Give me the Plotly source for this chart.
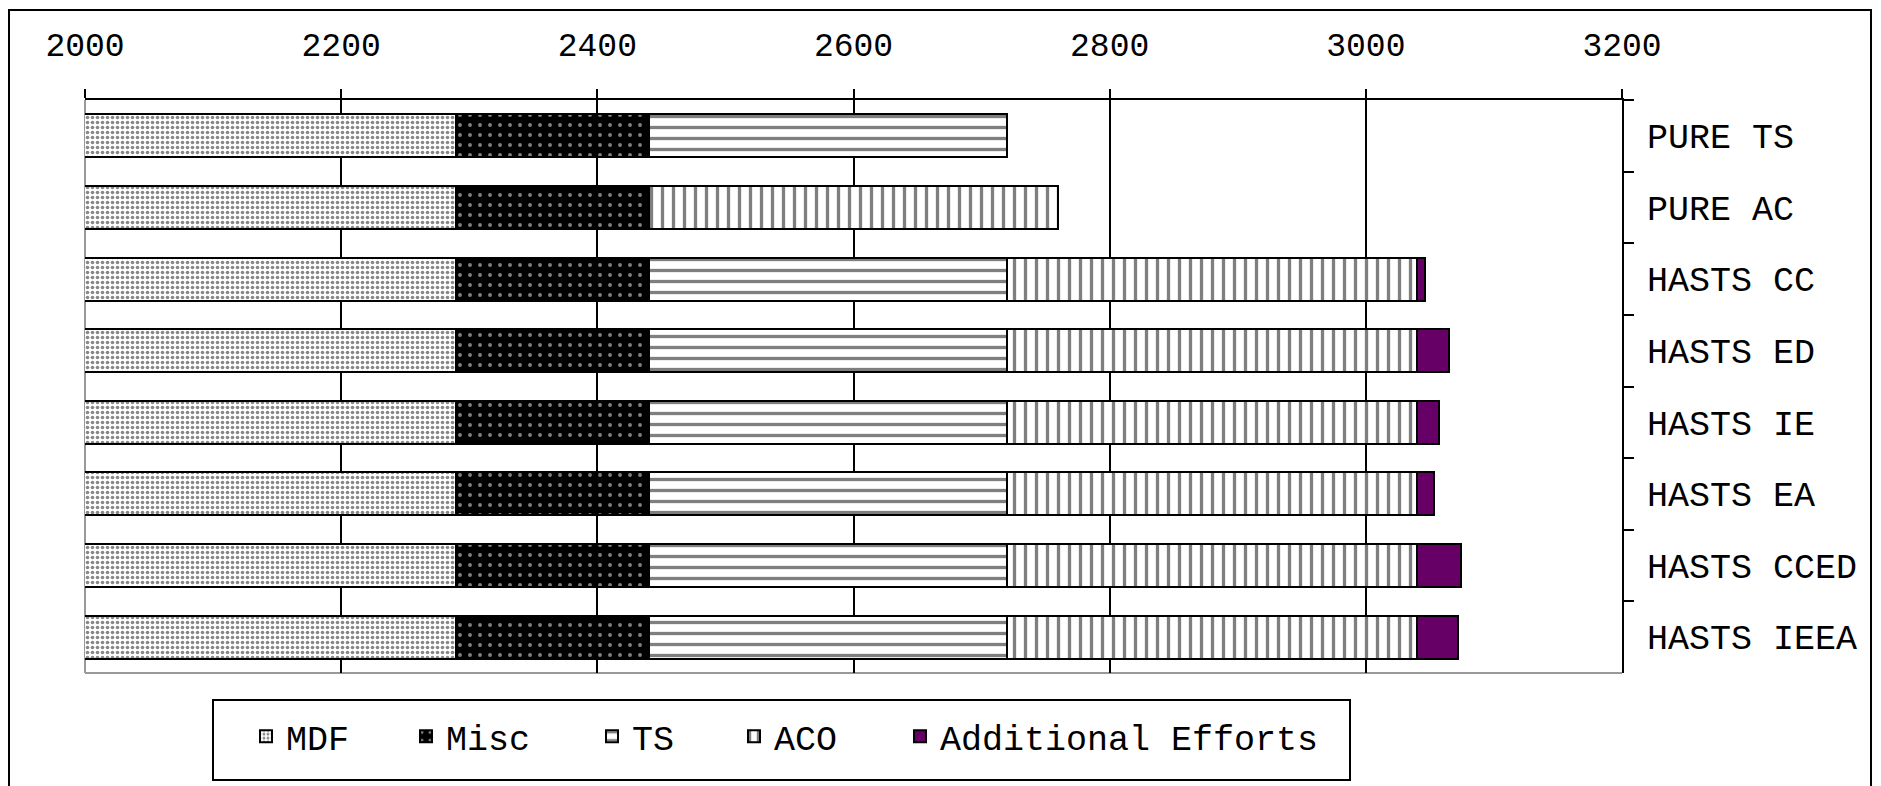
import plotly.graph_objects as go

# Categories (top to bottom) and stacked component values
categories = ["PURE TS", "PURE AC", "HASTS CC", "HASTS ED", "HASTS IE",
              "HASTS EA", "HASTS CCED", "HASTS IEEA"]
mdf = [2290, 2290, 2290, 2290, 2290, 2290, 2290, 2290]
misc = [150, 150, 150, 150, 150, 150, 150, 150]
ts = [280, None, 280, 280, 280, 280, 280, 280]
aco = [None, 320, 320, 320, 320, 320, 320, 320]
additional = [None, None, 6, 25, 17, 13, 34, 32]

x_ticks = [2000, 2200, 2400, 2600, 2800, 3000, 3200]

FONT = "Liberation Mono"
W, H = 1881, 786
L, R, T, B = 85, 1622, 100, 673


def px2x(px):
    return (px - L) / (R - L)


def py2y(py):
    return (B - py) / (B - T)


series = [
    ("MDF", mdf, dict(shape=".", bgcolor="white", fgcolor="#111111", size=5, solidity=0.42)),
    ("Misc", misc, dict(shape=".", bgcolor="black", fgcolor="white", size=10, solidity=0.12)),
    ("TS", ts, dict(shape="-", bgcolor="white", fgcolor="black", size=11, solidity=0.3)),
    ("ACO", aco, dict(shape="|", bgcolor="white", fgcolor="black", size=11, solidity=0.3)),
]

# legend entries sit side by side in one framed box; each has its own legend slot
legend_ids = ["legend", "legend2", "legend3", "legend4", "legend5"]
legend_left_px = [246, 406, 592, 734, 900]

fig = go.Figure()
for (name, vals, pat), lid in zip(series, legend_ids):
    fig.add_trace(go.Bar(
        y=categories, x=vals, name=name, orientation="h", legend=lid,
        marker=dict(color="white", pattern=pat,
                    line=dict(color="black", width=2)),
    ))
fig.add_trace(go.Bar(
    y=categories, x=additional, name="Additional Efforts", orientation="h",
    legend=legend_ids[4],
    marker=dict(color="#660066", line=dict(color="black", width=2)),
))

shapes = [
    # outer frame
    dict(type="rect", xref="paper", yref="paper",
         x0=px2x(9), x1=px2x(1871), y0=py2y(10), y1=py2y(795),
         line=dict(color="black", width=2), fillcolor="rgba(0,0,0,0)", layer="below"),
    # legend frame
    dict(type="rect", xref="paper", yref="paper",
         x0=px2x(213), x1=px2x(1350), y0=py2y(700), y1=py2y(780),
         line=dict(color="black", width=2), fillcolor="white", layer="below"),
    # left and bottom plot edges
    dict(type="line", xref="paper", yref="paper", x0=0, x1=0, y0=0, y1=1,
         line=dict(color="#999999", width=2), layer="below"),
    dict(type="line", xref="paper", yref="paper", x0=0, x1=1, y0=0, y1=0,
         line=dict(color="#999999", width=2), layer="below"),
]

legend_style = dict(
    orientation="h", yanchor="top", xanchor="left",
    bgcolor="rgba(0,0,0,0)", borderwidth=0,
    font=dict(family=FONT, size=35, color="black"),
)
legends = {
    lid: dict(legend_style, x=px2x(lx), y=py2y(707))
    for lid, lx in zip(legend_ids, legend_left_px)
}

fig.update_layout(
    width=W, height=H,
    margin=dict(l=L, r=W - R, t=T, b=H - B),
    paper_bgcolor="white", plot_bgcolor="white",
    barmode="stack", bargap=0.4,
    font=dict(family=FONT, size=35, color="black"),
    shapes=shapes,
    showlegend=True,
    **legends,
    xaxis=dict(
        side="top", range=[2000, 3200], tickvals=x_ticks,
        ticktext=[str(v) for v in x_ticks],
        ticks="outside", ticklen=9, tickwidth=2, tickcolor="black",
        showline=True, linecolor="black", linewidth=2,
        showgrid=True, gridcolor="black", gridwidth=1.5,
        zeroline=False, ticklabelstandoff=20,
        tickfont=dict(family=FONT, size=33, color="black"),
    ),
    yaxis=dict(
        side="right", type="category", categoryorder="array",
        categoryarray=categories, autorange="reversed",
        ticks="outside", ticklen=10, tickwidth=2, tickcolor="black",
        tickson="boundaries",
        showline=True, linecolor="black", linewidth=2,
        showgrid=False, zeroline=False, ticklabelstandoff=16,
        tickfont=dict(family=FONT, size=35, color="black"),
    ),
)

fig.write_html("out.html")
